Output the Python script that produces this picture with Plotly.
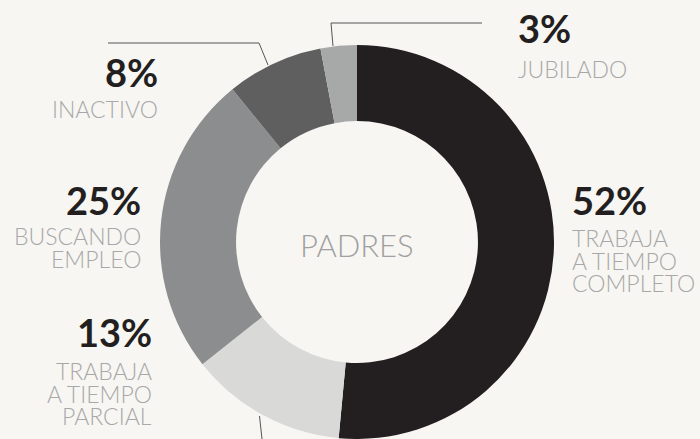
import plotly.graph_objects as go

W, H = 700, 439

categories = ["TRABAJA A TIEMPO COMPLETO", "TRABAJA A TIEMPO PARCIAL",
              "BUSCANDO EMPLEO", "INACTIVO", "JUBILADO"]
values = [52, 13, 25, 8, 3]
pct_labels = ["52%", "13%", "25%", "8%", "3%"]
label_lines = [["TRABAJA", "A TIEMPO", "COMPLETO"],
               ["TRABAJA", "A TIEMPO", "PARCIAL"],
               ["BUSCANDO", "EMPLEO"],
               ["INACTIVO"],
               ["JUBILADO"]]
colors = ["#231f20", "#d9d9d7", "#8c8d8f", "#5f5f5f", "#a7a8a8"]
center_title = "PADRES"

BG = "#f7f6f2"
cx, cy, R = 357, 242, 197

def px(x):
    return x / W

def py(y):
    return 1 - y / H

fig = go.Figure(go.Pie(
    labels=categories, values=values, sort=False, direction="clockwise",
    rotation=0, hole=0.614, marker=dict(colors=colors, line=dict(width=0)),
    textinfo="none", hoverinfo="label+percent", showlegend=False,
    domain=dict(x=[px(cx - R), px(cx + R)], y=[py(cy + R), py(cy - R)]),
))

# label layout: (anchor, x, pct center y, first line center y)
layout_pos = [
    ("left", 570, 200, 238),
    ("right", 154, 332, 371),
    ("right", 143, 200, 236),
    ("right", 160, 72, 109),
    ("left", 516, 28, 69),
]
line_gap = 22.7

bold_font = dict(family="Lato", size=38, color="#231f20", weight=700)
thin_font = dict(family="Lato", size=23, color="#a8a8a8", weight=300)

ann = []
for i, (anchor, x, ypct, yl) in enumerate(layout_pos):
    ann.append(dict(x=px(x), y=py(ypct), xref="paper", yref="paper",
                    text=pct_labels[i], showarrow=False, xanchor=anchor,
                    yanchor="middle", font=bold_font))
    for j, t in enumerate(label_lines[i]):
        ann.append(dict(x=px(x), y=py(yl + j * line_gap), xref="paper", yref="paper",
                        text=t, showarrow=False, xanchor=anchor, height=22,
                        yanchor="middle", font=thin_font))

ann.append(dict(x=px(cx), y=py(245), xref="paper", yref="paper", text=center_title,
                showarrow=False, xanchor="center", yanchor="middle",
                font=dict(family="Lato", size=31, color="#a0a0a0", weight=300)))

line_style = dict(color="#555555", width=1)
leaders = [
    [(108, 43), (259, 43), (268, 65)],
    [(482, 23), (331, 23), (333, 46)],
    [(259.5, 416), (262, 439)],
]
shapes = []
for pts in leaders:
    for (x0, y0), (x1, y1) in zip(pts[:-1], pts[1:]):
        shapes.append(dict(type="line", xref="paper", yref="paper",
                           x0=px(x0), y0=py(y0), x1=px(x1), y1=py(y1),
                           line=line_style))

fig.update_layout(
    width=W, height=H, margin=dict(l=0, r=0, t=0, b=0),
    paper_bgcolor=BG, plot_bgcolor=BG,
    annotations=ann, shapes=shapes,
)

fig.write_html("out.html", config={"displayModeBar": False},
               post_script="document.body.style.margin='0';")
